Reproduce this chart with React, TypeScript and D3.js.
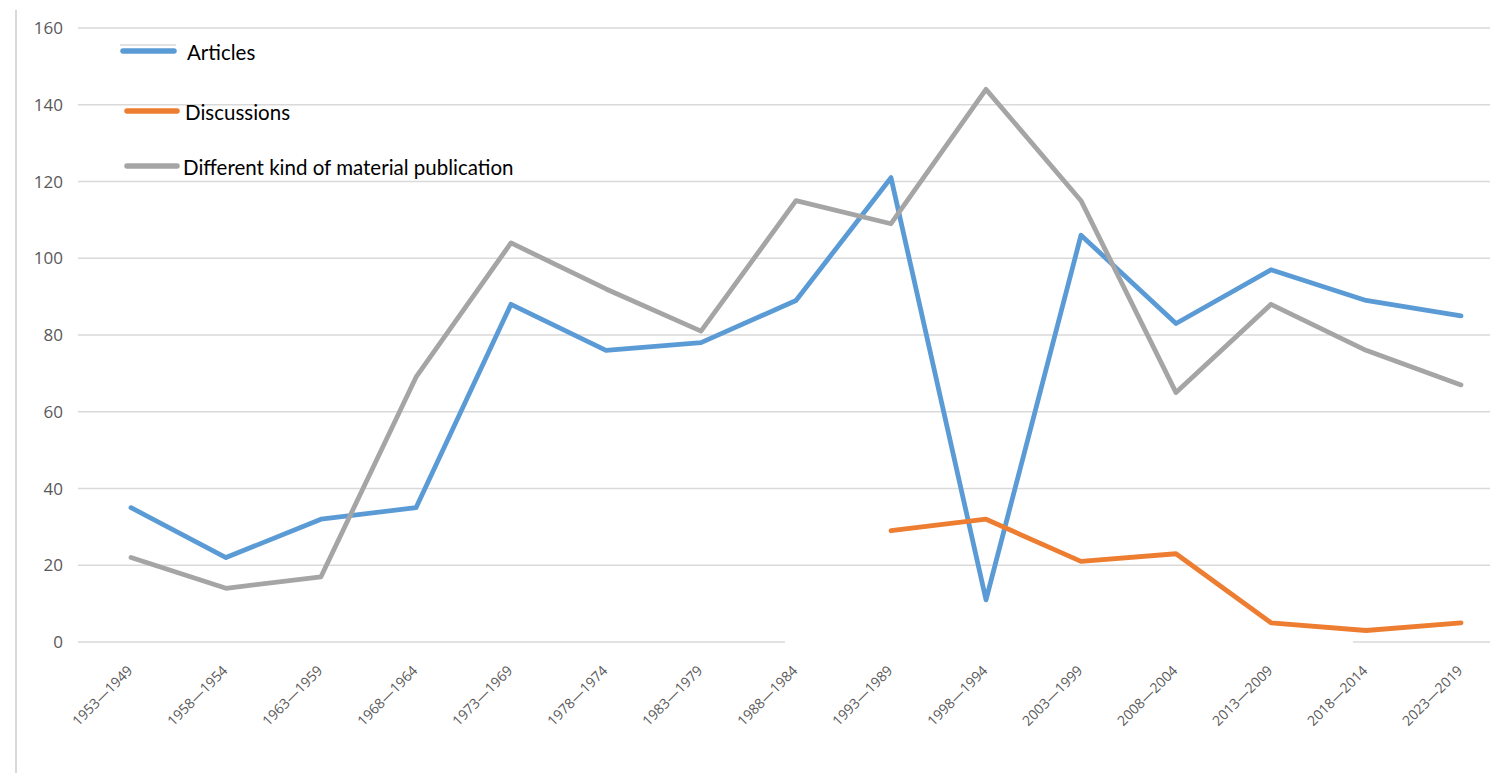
import React, { useRef, useEffect } from "react";
import * as d3 from "d3";

const categories = [
  "1953—1949", "1958—1954", "1963—1959", "1968—1964", "1973—1969",
  "1978—1974", "1983—1979", "1988—1984", "1993—1989", "1998—1994",
  "2003—1999", "2008—2004", "2013—2009", "2018—2014", "2023—2019",
];
const articles = [35, 22, 32, 35, 88, 76, 78, 89, 121, 11, 106, 83, 97, 89, 85];
const discussions: (number | null)[] = [null, null, null, null, null, null, null, null, 29, 32, 21, 23, 5, 3, 5];
const otherMaterial = [22, 14, 17, 69, 104, 92, 81, 115, 109, 144, 115, 65, 88, 76, 67];
const yTicks = [0, 20, 40, 60, 80, 100, 120, 140, 160];

const series = [
  { name: "Articles", values: articles, color: "#5B9BD5" },
  { name: "Discussions", values: discussions, color: "#ED7D31" },
  { name: "Different kind of material publication", values: otherMaterial, color: "#A5A5A5" },
];

const width = 1504;
const height = 773;

const App = () => {
  const svgRef = useRef<SVGSVGElement>(null);

  useEffect(() => {
    const svg = d3.select(svgRef.current);
    svg.selectAll("*").remove();

    const x = d3.scalePoint<string>().domain(categories).range([131, 1461]);
    const y = d3.scaleLinear().domain([0, 160]).range([642, 28]);

    svg.append("rect").attr("width", width).attr("height", height).attr("fill", "#fff");

    // left border
    svg.append("line")
      .attr("x1", 16).attr("x2", 16).attr("y1", 10).attr("y2", height)
      .attr("stroke", "#d9d9d9").attr("stroke-width", 2);

    // gridlines (the zero line has a gap in the original picture)
    svg.selectAll(".grid")
      .data(yTicks.filter((d) => d !== 0))
      .enter()
      .append("line")
      .attr("x1", 78).attr("x2", 1490)
      .attr("y1", (d) => y(d)).attr("y2", (d) => y(d))
      .attr("stroke", "#d9d9d9").attr("stroke-width", 1.3);
    [[78, 785], [1353, 1490]].forEach(([a, b]) => {
      svg.append("line")
        .attr("x1", a).attr("x2", b)
        .attr("y1", y(0)).attr("y2", y(0))
        .attr("stroke", "#d9d9d9").attr("stroke-width", 1.3);
    });

    // y labels
    svg.selectAll(".ylab")
      .data(yTicks)
      .enter()
      .append("text")
      .attr("x", 63)
      .attr("y", (d) => y(d))
      .attr("dy", "0.36em")
      .attr("text-anchor", "end")
      .attr("font-family", "Open Sans, sans-serif")
      .attr("font-size", "17px")
      .attr("fill", "#595959")
      .text((d) => d);

    // x labels
    svg.selectAll(".xlab")
      .data(categories)
      .enter()
      .append("text")
      .attr("transform", (d) => `translate(${(x(d) ?? 0) - 1},${668}) rotate(-45)`)
      .attr("dy", "0.35em")
      .attr("text-anchor", "end")
      .attr("font-family", "Open Sans, sans-serif")
      .attr("font-size", "14px")
      .attr("fill", "#595959")
      .text((d) => d);

    const line = d3.line<number | null>()
      .defined((d) => d != null)
      .x((_, i) => x(categories[i]) ?? 0)
      .y((d) => y(d as number));

    series.forEach((s) => {
      svg.append("path")
        .datum(s.values)
        .attr("fill", "none")
        .attr("stroke", s.color)
        .attr("stroke-width", 4.8)
        .attr("stroke-linejoin", "round")
        .attr("stroke-linecap", "round")
        .attr("d", line);
    });

    // legend
    svg.append("line")
      .attr("x1", 120).attr("x2", 176).attr("y1", 45).attr("y2", 45)
      .attr("stroke", "#d9d9d9").attr("stroke-width", 1.3);
    const legendLineX = [[123, 174], [127, 177], [127, 177]];
    const legendY = [51, 111, 166];
    const legendTextX = [187, 185, 183];
    series.forEach((s, i) => {
      svg.append("line")
        .attr("x1", legendLineX[i][0]).attr("x2", legendLineX[i][1])
        .attr("y1", legendY[i]).attr("y2", legendY[i])
        .attr("stroke", s.color).attr("stroke-width", 5.5)
        .attr("stroke-linecap", "round");
      svg.append("text")
        .attr("x", legendTextX[i])
        .attr("y", legendY[i] + 2)
        .attr("dy", "0.35em")
        .attr("font-family", "Lato, sans-serif")
        .attr("font-size", "20.5px")
        .attr("fill", "#000")
        .text(s.name);
    });
  }, []);

  return (
    <div style={{ position: "fixed", left: 0, top: 0 }}>
      <svg ref={svgRef} width={width} height={height} style={{ display: "block" }} />
    </div>
  );
};

export default App;
